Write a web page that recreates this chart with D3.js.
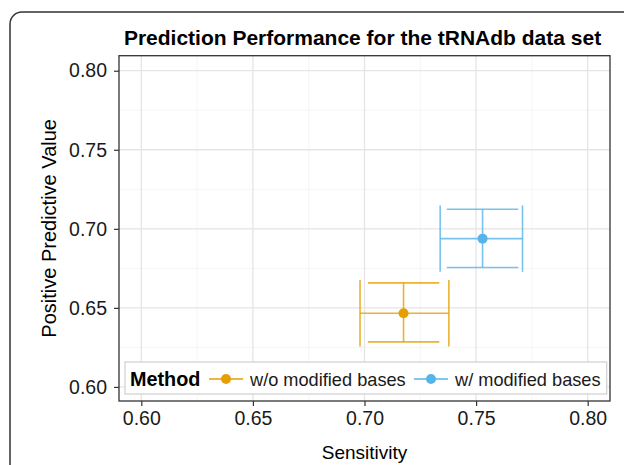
<!DOCTYPE html>
<html>
<head>
<meta charset="utf-8">
<script src="https://cdn.jsdelivr.net/npm/d3@7"></script>
<style>
  body { margin: 0; background: #fff; }
  svg { display: block; font-family: "Liberation Sans", Arial, sans-serif; }
</style>
</head>
<body>
<div class="chart"></div>
<script>
const methods = ["w/o modified bases", "w/ modified bases"];
const colors = ["#E69F00", "#56B4E9"];
const sens = [0.7175, 0.7529];
const sensLow = [0.698, 0.7339];
const sensHigh = [0.7378, 0.7708];
const ppv = [0.6466, 0.6938];
const ppvLow = [0.6285, 0.6755];
const ppvHigh = [0.6658, 0.7124];
const xTicks = [0.60, 0.65, 0.70, 0.75, 0.80];
const yTicks = [0.60, 0.65, 0.70, 0.75, 0.80];
const xMinor = [0.625, 0.675, 0.725, 0.775];
const yMinor = [0.625, 0.675, 0.725, 0.775];

const data = methods.map((m, i) => ({
  method: m, color: colors[i],
  x: sens[i], xlo: sensLow[i], xhi: sensHigh[i],
  y: ppv[i], ylo: ppvLow[i], yhi: ppvHigh[i]
}));

const W = 624, H = 465;
const margin = { top: 55.7, right: 14, bottom: 64, left: 119 };
const innerW = W - margin.left - margin.right;
const innerH = H - margin.top - margin.bottom;

const svg = d3.select(".chart").append("svg")
  .attr("width", W).attr("height", H);

// outer frame (rounded, clipped by the page)
svg.append("rect")
  .attr("x", 10).attr("y", 12)
  .attr("width", W + 20).attr("height", H + 20)
  .attr("rx", 12)
  .attr("fill", "none").attr("stroke", "#333").attr("stroke-width", 1.5);

const x = d3.scaleLinear().domain([0.59, 0.81]).range([0, innerW]);
const y = d3.scaleLinear().domain([0.5911, 0.8095]).range([innerH, 0]);

const g = svg.append("g").attr("transform", `translate(${margin.left},${margin.top})`);

// grid
g.selectAll(".xminor").data(xMinor).join("line")
  .attr("x1", d => x(d)).attr("x2", d => x(d)).attr("y1", 0).attr("y2", innerH)
  .attr("stroke", "#f2f2f2").attr("stroke-width", 0.8);
g.selectAll(".yminor").data(yMinor).join("line")
  .attr("y1", d => y(d)).attr("y2", d => y(d)).attr("x1", 0).attr("x2", innerW)
  .attr("stroke", "#f2f2f2").attr("stroke-width", 0.8);
g.selectAll(".xmajor").data(xTicks).join("line")
  .attr("x1", d => x(d)).attr("x2", d => x(d)).attr("y1", 0).attr("y2", innerH)
  .attr("stroke", "#e5e5e5").attr("stroke-width", 1.3);
g.selectAll(".ymajor").data(yTicks).join("line")
  .attr("y1", d => y(d)).attr("y2", d => y(d)).attr("x1", 0).attr("x2", innerW)
  .attr("stroke", "#e5e5e5").attr("stroke-width", 1.3);

// error bars
const capW = 0.032, capH = 0.042;
const bars = g.selectAll(".bar").data(data).join("g")
  .attr("stroke", d => d.color).attr("stroke-width", 1.6).attr("stroke-opacity", 0.8);
// vertical (ppv)
bars.append("line")
  .attr("x1", d => x(d.x)).attr("x2", d => x(d.x))
  .attr("y1", d => y(d.ylo)).attr("y2", d => y(d.yhi));
bars.append("line")
  .attr("x1", d => x(d.x - capW / 2)).attr("x2", d => x(d.x + capW / 2))
  .attr("y1", d => y(d.ylo)).attr("y2", d => y(d.ylo));
bars.append("line")
  .attr("x1", d => x(d.x - capW / 2)).attr("x2", d => x(d.x + capW / 2))
  .attr("y1", d => y(d.yhi)).attr("y2", d => y(d.yhi));
// horizontal (sensitivity)
bars.append("line")
  .attr("x1", d => x(d.xlo)).attr("x2", d => x(d.xhi))
  .attr("y1", d => y(d.y)).attr("y2", d => y(d.y));
bars.append("line")
  .attr("x1", d => x(d.xlo)).attr("x2", d => x(d.xlo))
  .attr("y1", d => y(d.y - capH / 2)).attr("y2", d => y(d.y + capH / 2));
bars.append("line")
  .attr("x1", d => x(d.xhi)).attr("x2", d => x(d.xhi))
  .attr("y1", d => y(d.y - capH / 2)).attr("y2", d => y(d.y + capH / 2));

g.selectAll(".pt").data(data).join("circle")
  .attr("cx", d => x(d.x)).attr("cy", d => y(d.y)).attr("r", 5)
  .attr("fill", d => d.color);

// panel border
g.append("rect").attr("width", innerW).attr("height", innerH)
  .attr("fill", "none").attr("stroke", "#333").attr("stroke-width", 1.3);

// axes
const fmt = d3.format(".2f");
const xAxis = g.append("g").attr("transform", `translate(0,${innerH})`)
  .call(d3.axisBottom(x).tickValues(xTicks).tickFormat(fmt).tickSize(5).tickPadding(5));
const yAxis = g.append("g")
  .call(d3.axisLeft(y).tickValues(yTicks).tickFormat(fmt).tickSize(5).tickPadding(7));
[xAxis, yAxis].forEach(a => {
  a.select(".domain").remove();
  a.selectAll(".tick line").attr("stroke", "#333").attr("stroke-width", 1.2);
  a.selectAll(".tick text").attr("fill", "#1a1a1a")
    .style("font-size", "19.5px").style("font-family", "'Liberation Sans', Arial, sans-serif");
});

// titles
svg.append("text")
  .attr("x", margin.left + innerW / 2 - 2).attr("y", 45)
  .attr("text-anchor", "middle").attr("font-weight", "bold")
  .style("font-size", "21px").attr("fill", "#000")
  .text("Prediction Performance for the tRNAdb data set");

svg.append("text")
  .attr("x", margin.left + innerW / 2).attr("y", 459)
  .attr("text-anchor", "middle").style("font-size", "19px").attr("fill", "#000")
  .text("Sensitivity");

svg.append("text")
  .attr("transform", `translate(56,${margin.top + innerH / 2}) rotate(-90)`)
  .attr("text-anchor", "middle").style("font-size", "20px").attr("fill", "#000")
  .text("Positive Predictive Value");

// legend
const leg = svg.append("g");
leg.append("rect")
  .attr("x", 125).attr("y", 362).attr("width", 481.7).attr("height", 32)
  .attr("fill", "#fff").attr("stroke", "#cfcfcf").attr("stroke-width", 1.2);
leg.append("text")
  .attr("x", 130).attr("y", 386).attr("font-weight", "bold")
  .style("font-size", "19.8px").attr("fill", "#000").text("Method");
const keyX = [209, 414];
const items = leg.selectAll(".item").data(data).join("g")
  .attr("transform", (d, i) => `translate(${keyX[i]},379)`);
items.append("line").attr("x1", 0).attr("x2", 34)
  .attr("stroke", d => d.color).attr("stroke-width", 1.6);
items.append("circle").attr("cx", 17).attr("r", 5).attr("fill", d => d.color);
items.append("text").attr("x", 41).attr("y", 7)
  .style("font-size", "18.2px").attr("fill", "#1a1a1a").text(d => d.method);
</script>
</body>
</html>
